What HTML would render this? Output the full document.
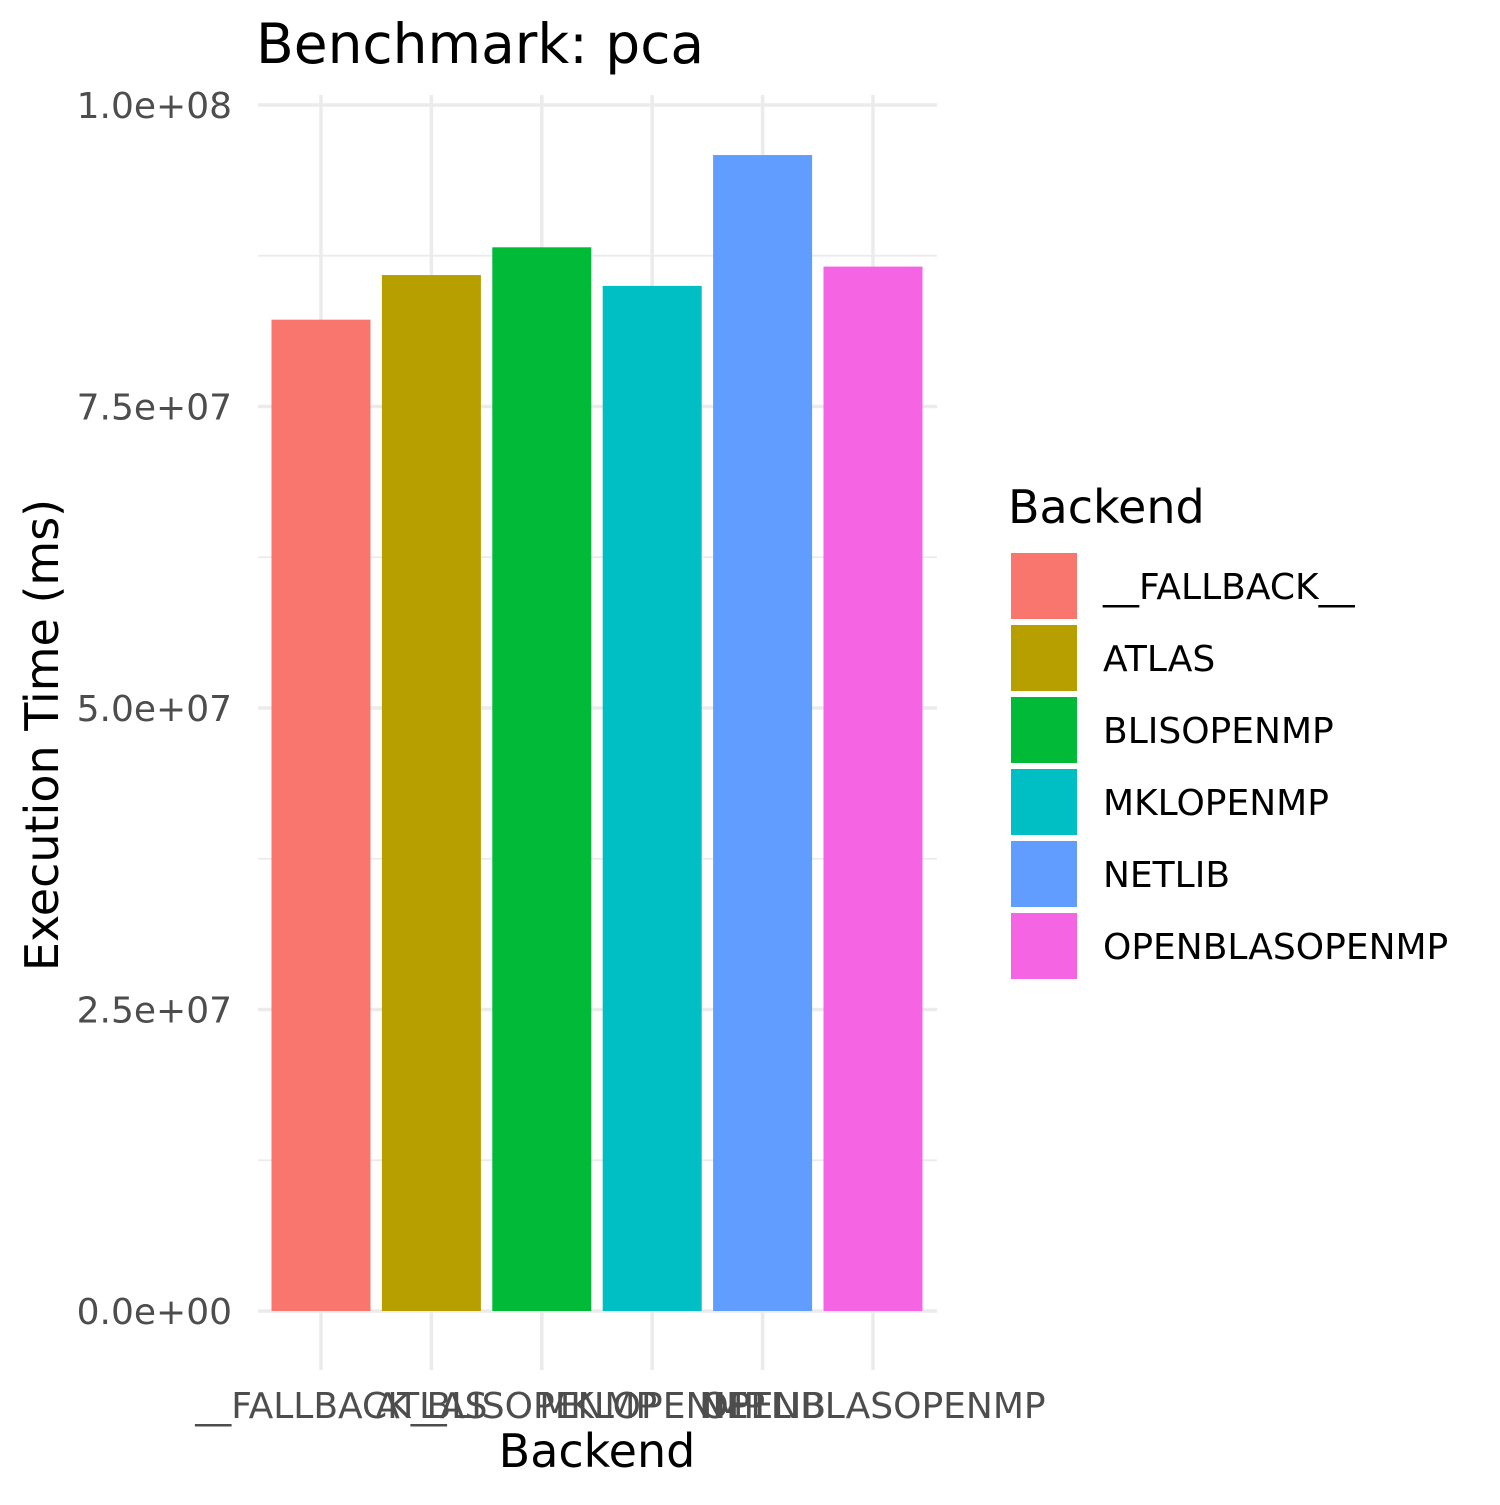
<!DOCTYPE html>
<html><head><meta charset="utf-8"><style>
body{margin:0;background:#fff;}
svg text{font-family:"DejaVu Sans","Liberation Sans",sans-serif;}
</style></head><body>
<svg id="chart" width="1500" height="1500" xmlns="http://www.w3.org/2000/svg">
<text x="256" y="63" font-size="55" fill="#000">Benchmark: pca</text>
<g id="grid"></g>
<g id="bars"></g>
<g id="axes"></g>
<text x="597" y="1467" font-size="46" text-anchor="middle" fill="#000">Backend</text>
<text transform="translate(58,735) rotate(-90)" font-size="46" text-anchor="middle" fill="#000">Execution Time (ms)</text>
<text x="1008" y="523" font-size="46" fill="#000">Backend</text>
<g id="legend"></g>
</svg>
<script>
const categories = ["__FALLBACK__","ATLAS","BLISOPENMP","MKLOPENMP","NETLIB","OPENBLASOPENMP"];
const values = [82.2e6, 85.9e6, 88.2e6, 85.0e6, 95.85e6, 86.6e6];
const colors = ["#F8766D","#B79F00","#00BA38","#00BFC4","#619CFF","#F564E3"];
const yTicks = [0, 2.5e7, 5e7, 7.5e7, 1e8];
const yTickLabels = ["0.0e+00","2.5e+07","5.0e+07","7.5e+07","1.0e+08"];
const NS="http://www.w3.org/2000/svg";
const y = v => 1311 - v/1e8*1206;
const x = i => 321 + i*110.4;
const bw = 99;
function mk(tag, attrs, parent){const e=document.createElementNS(NS,tag);for(const k in attrs)e.setAttribute(k,attrs[k]);document.getElementById(parent).appendChild(e);return e;}
for(let i=0;i<yTicks.length;i++){
  const l=mk('line',{x1:258,x2:937,y1:y(yTicks[i]),y2:y(yTicks[i]),stroke:'#ebebeb','stroke-width':3.5},'grid');
  
  
  if(i<yTicks.length-1){
    const m=mk('line',{x1:258,x2:937,y1:y((yTicks[i]+yTicks[i+1])/2),y2:y((yTicks[i]+yTicks[i+1])/2),stroke:'#ebebeb','stroke-width':1.8},'grid');
    
    
  }
  const t=mk('text',{x:232,y:y(yTicks[i])+13,'font-size':36,fill:'#4d4d4d','text-anchor':'end'},'axes');
  t.textContent=yTickLabels[i];
  
  
}
categories.forEach((c,i)=>{
  const g=mk('line',{x1:x(i),x2:x(i),y1:95,y2:1370,stroke:'#ebebeb','stroke-width':3.5},'grid');
  
  
  const r=mk('rect',{x:x(i)-bw/2,y:y(values[i]),width:bw,height:y(0)-y(values[i]),fill:colors[i]},'bars');
  
  
  const t=mk('text',{x:x(i),y:1418,'font-size':36,fill:'#4d4d4d','text-anchor':'middle'},'axes');
  t.textContent=c;
  
  
  const k=mk('rect',{x:1011,y:553+i*72,width:66,height:66,fill:colors[i]},'legend');
  
  
  const lt=mk('text',{x:1103,y:599+i*72,'font-size':36,fill:'#000'},'legend');
  lt.textContent=c;
  
  
});
</script>
</body></html>
